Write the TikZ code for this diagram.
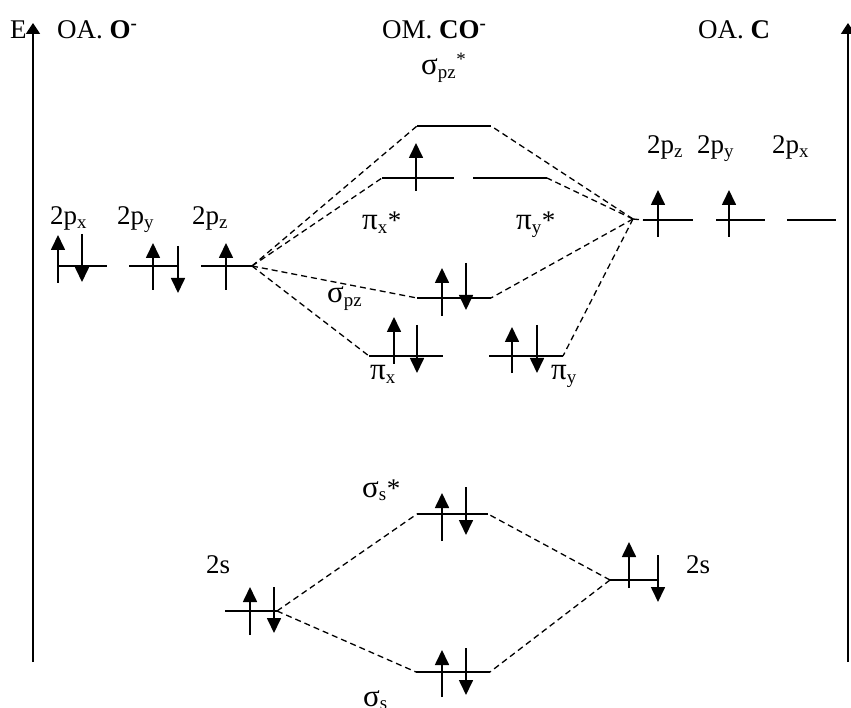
\documentclass[tikz,border=0pt]{standalone}
\usepackage{fontspec}
\setmainfont{Liberation Serif}
\usetikzlibrary{arrows.meta}
\begin{document}
\begin{tikzpicture}[x=1pt,y=-1pt,
  lvl/.style={line width=1.7pt},
  el/.style={line width=1.7pt,-{Triangle[length=15pt,width=14pt]}},
  conn/.style={line width=1.3pt,dash pattern=on 6pt off 4pt},
  axisline/.style={line width=1.8pt,-{Triangle[length=11pt,width=14pt]}},
  lbl/.style={inner sep=0pt,anchor=base west,font=\fontsize{27}{32}\selectfont},
  gk/.style={font=\fontsize{31}{34}\selectfont}]
\useasboundingbox (0,0) rectangle (851,708);
% axes
\coordinate (axLb) at (33,662);
\coordinate (axLt) at (33,23);
\coordinate (axRb) at (848,662);
\coordinate (axRt) at (848,23);
\draw[axisline] (axLb) -- (axLt);
\draw[axisline] (axRb) -- (axRt);
% titles
\node[lbl] (tE) at (10,39) {E};
\node[lbl] (tO) at (57,39) {OA. \textbf{O}\textsuperscript{\textbf{-}}};
\node[lbl] (tCO) at (382,39) {OM. \textbf{CO}\textsuperscript{\textbf{-}}};
\node[lbl] (tC) at (698,39) {OA. \textbf{C}};
% O 2p
\node[lbl] (lO2px) at (50,225) {2p\textsubscript{x}};
\node[lbl] (lO2py) at (117,225) {2p\textsubscript{y}};
\node[lbl] (lO2pz) at (192,225) {2p\textsubscript{z}};
\coordinate (O2pxL) at (58,266); \coordinate (O2pxR) at (107,266);
\coordinate (O2pyL) at (129,266); \coordinate (O2pyR) at (177,266);
\coordinate (O2pzL) at (201,266); \coordinate (O2pzR) at (252,266);
\draw[lvl] (O2pxL) -- (O2pxR);
\draw[lvl] (O2pyL) -- (O2pyR);
\draw[lvl] (O2pzL) -- (O2pzR);
\draw[el] (58,283) -- (58,235);
\draw[el] (82,234) -- (82,282);
\draw[el] (153,290) -- (153,243);
\draw[el] (178,246) -- (178,293);
\draw[el] (226,290) -- (226,243);
% C 2p
\node[lbl] (lC2pz) at (647,154) {2p\textsubscript{z}};
\node[lbl] (lC2py) at (697,154) {2p\textsubscript{y}};
\node[lbl] (lC2px) at (772,154) {2p\textsubscript{x}};
\coordinate (Cconv) at (633,219);
\coordinate (C2pzL) at (643,220); \coordinate (C2pzR) at (693,220);
\coordinate (C2pyL) at (716,220); \coordinate (C2pyR) at (765,220);
\coordinate (C2pxL) at (787,220); \coordinate (C2pxR) at (836,220);
\draw[lvl] (C2pzL) -- (C2pzR);
\draw[lvl] (C2pyL) -- (C2pyR);
\draw[lvl] (C2pxL) -- (C2pxR);
\draw[el] (658,237) -- (658,190);
\draw[el] (729,237) -- (729,190);
% MO 2p
\node[lbl] (lspzs) at (421,75) {{\fontsize{31}{34}\selectfont σ}\textsubscript{pz}\textsuperscript{*}};
\coordinate (spzsL) at (417,126); \coordinate (spzsR) at (491,126);
\draw[lvl] (spzsL) -- (spzsR);
\node[lbl] (lpxs) at (362,230) {{\fontsize{31}{34}\selectfont π}\textsubscript{x}*};
\node[lbl] (lpys) at (516,230) {{\fontsize{31}{34}\selectfont π}\textsubscript{y}*};
\coordinate (pxsL) at (382,178); \coordinate (pxsR) at (454,178);
\coordinate (pysL) at (473,178); \coordinate (pysR) at (547,178);
\draw[lvl] (pxsL) -- (pxsR);
\draw[lvl] (pysL) -- (pysR);
\draw[el] (416,191) -- (416,143);
\node[lbl] (lspz) at (327,303) {{\fontsize{31}{34}\selectfont σ}\textsubscript{pz}};
\coordinate (spzL) at (417,298); \coordinate (spzR) at (491,298);
\draw[lvl] (spzL) -- (spzR);
\draw[el] (442,316) -- (442,268);
\draw[el] (466,263) -- (466,310);
\node[lbl] (lpx) at (370,380) {{\fontsize{31}{34}\selectfont π}\textsubscript{x}};
\node[lbl] (lpy) at (551,380) {{\fontsize{31}{34}\selectfont π}\textsubscript{y}};
\coordinate (pxL) at (369,356); \coordinate (pxR) at (443,356);
\coordinate (pyL) at (489,356); \coordinate (pyR) at (563,356);
\draw[lvl] (pxL) -- (pxR);
\draw[lvl] (pyL) -- (pyR);
\draw[el] (394,364) -- (394,317);
\draw[el] (417,325) -- (417,373);
\draw[el] (512,373) -- (512,327);
\draw[el] (537,325) -- (537,373);
% 2p connectors
\draw[conn] (O2pzR) -- (spzsL);
\draw[conn] (O2pzR) -- (pxsL);
\draw[conn] (O2pzR) -- (spzL);
\draw[conn] (O2pzR) -- (pxL);
\draw[conn] (Cconv) -- (spzsR);
\draw[conn] (Cconv) -- (pysR);
\draw[conn] (Cconv) -- (spzR);
\draw[conn] (Cconv) -- (pyR);
\draw[conn] (Cconv) -- (C2pzL);
% 2s
\node[lbl] (lO2s) at (206,573) {2s};
\node[lbl] (lC2s) at (686,573) {2s};
\coordinate (O2sL) at (225,611); \coordinate (O2sR) at (277,611);
\draw[lvl] (O2sL) -- (O2sR);
\draw[el] (250,635) -- (250,587);
\draw[el] (274,587) -- (274,633);
\coordinate (C2sL) at (610,580); \coordinate (C2sR) at (658,580);
\draw[lvl] (C2sL) -- (C2sR);
\draw[el] (629,588) -- (629,542);
\draw[el] (658,555) -- (658,602);
\node[lbl] (lsss) at (362,497) {{\fontsize{31}{34}\selectfont σ}\textsubscript{s}*};
\coordinate (sssL) at (417,514); \coordinate (sssR) at (488,514);
\draw[lvl] (sssL) -- (sssR);
\draw[el] (442,541) -- (442,493);
\draw[el] (466,487) -- (466,535);
\node[lbl] (lss) at (363,706) {{\fontsize{31}{34}\selectfont σ}\textsubscript{s}};
\coordinate (ssL) at (416,672); \coordinate (ssR) at (490,672);
\draw[lvl] (ssL) -- (ssR);
\draw[el] (442,697) -- (442,650);
\draw[el] (466,648) -- (466,695);
\draw[conn] (O2sR) -- (sssL);
\draw[conn] (O2sR) -- (ssL);
\draw[conn] (C2sL) -- (sssR);
\draw[conn] (C2sL) -- (ssR);
\end{tikzpicture}
\end{document}
